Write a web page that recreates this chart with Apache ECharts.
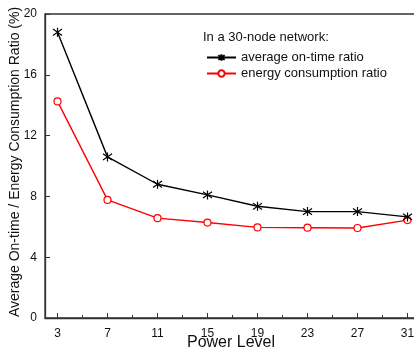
<!DOCTYPE html>
<html>
<head>
<meta charset="utf-8">
<script src="https://cdn.jsdelivr.net/npm/echarts@6/dist/echarts.min.js"></script>
<style>
  html, body { margin: 0; padding: 0; background: #fff; }
  #chart { width: 414px; height: 354px; }
</style>
</head>
<body>
<div id="chart"></div>
<script>
// Power levels on the x axis
const powerLevels = [3, 7, 11, 15, 19, 23, 27, 31];
// Average on-time ratio (%)
const onTimeRatio = [18.8, 10.6, 8.8, 8.1, 7.35, 7.0, 7.0, 6.65];
// Energy consumption ratio (%)
const energyRatio = [14.25, 7.77, 6.57, 6.28, 5.96, 5.94, 5.92, 6.44];
// Axis ticks: labelled major ticks and the minor ticks between them
const xTicks = [3, 7, 11, 15, 19, 23, 27, 31];
const xMinorTicks = [5, 9, 13, 17, 21, 25, 29];
const yTicks = [0, 4, 8, 12, 16, 20];

const FONT = 'Liberation Sans, Arial, sans-serif';
const AXIS_COLOR = '#333';
const STAR = 'path://M5,0L5,10M1.5,1.5L8.5,8.5M8.5,1.5L1.5,8.5';

const chart = echarts.init(document.getElementById('chart'), null, { renderer: 'canvas' });

chart.setOption({
  animation: false,
  backgroundColor: '#fff',
  textStyle: { fontFamily: FONT },
  grid: {
    left: 45, top: 14, width: 375, height: 304,
    containLabel: false, outerBoundsMode: 'none',
    show: true, borderColor: AXIS_COLOR, borderWidth: 1.3
  },
  legend: {
    orient: 'vertical',
    left: 201, top: 46,
    itemWidth: 29, itemHeight: 8, itemGap: 3,
    textStyle: { fontFamily: FONT, fontSize: 13, color: '#111' },
    data: ['average on-time ratio', 'energy consumption ratio']
  },
  graphic: [
    {
      type: 'text', left: 203, top: 31,
      style: { text: 'In a 30-node network:', font: '13px ' + FONT, fill: '#111' }
    },
    {
      // x axis title
      type: 'text', x: 231, y: 343,
      style: {
        text: 'Power Level', font: '16px ' + FONT, fill: '#111',
        align: 'center', verticalAlign: 'middle'
      }
    },
    {
      // y axis title
      type: 'text', x: 15, y: 162, rotation: Math.PI / 2,
      style: {
        text: 'Average On-time / Energy Consumption Ratio (%)', font: '14px ' + FONT, fill: '#111',
        align: 'center', verticalAlign: 'middle'
      }
    }
  ],
  xAxis: [
    {
      type: 'value', min: 2, max: 32,
      axisLine: { onZero: false, lineStyle: { color: AXIS_COLOR, width: 1.3 } },
      axisTick: {
        inside: true, length: 5, lineStyle: { color: AXIS_COLOR },
        customValues: xTicks
      },
      axisLabel: { fontSize: 12, color: '#111', margin: 10, customValues: xTicks },
      splitLine: { show: false }
    },
    {
      // minor ticks between the labelled power levels
      type: 'value', min: 2, max: 32, position: 'bottom',
      axisLine: { show: false, onZero: false },
      axisTick: {
        inside: true, length: 3, lineStyle: { color: AXIS_COLOR },
        customValues: xMinorTicks
      },
      axisLabel: { show: false },
      splitLine: { show: false }
    }
  ],
  yAxis: {
    type: 'value', min: 0, max: 20, interval: 4,
    axisLine: { show: true, lineStyle: { color: AXIS_COLOR, width: 1.3 } },
    axisTick: { inside: true, length: 5, lineStyle: { color: AXIS_COLOR }, customValues: yTicks },
    axisLabel: { fontSize: 12, color: '#111', margin: 8, customValues: yTicks },
    splitLine: { show: false }
  },
  series: [
    {
      name: 'average on-time ratio',
      type: 'line',
      data: powerLevels.map((x, i) => [x, onTimeRatio[i]]),
      symbol: STAR, symbolSize: 9,
      lineStyle: { color: '#000', width: 1.4 },
      itemStyle: { color: '#000', borderColor: '#000', borderWidth: 1.2 },
      z: 3
    },
    {
      name: 'energy consumption ratio',
      type: 'line',
      data: powerLevels.map((x, i) => [x, energyRatio[i]]),
      symbol: 'circle', symbolSize: 7,
      lineStyle: { color: '#ff0000', width: 1.4 },
      itemStyle: { color: '#fff', borderColor: '#ff0000', borderWidth: 1.2 },
      z: 2
    }
  ]
});
</script>
</body>
</html>
